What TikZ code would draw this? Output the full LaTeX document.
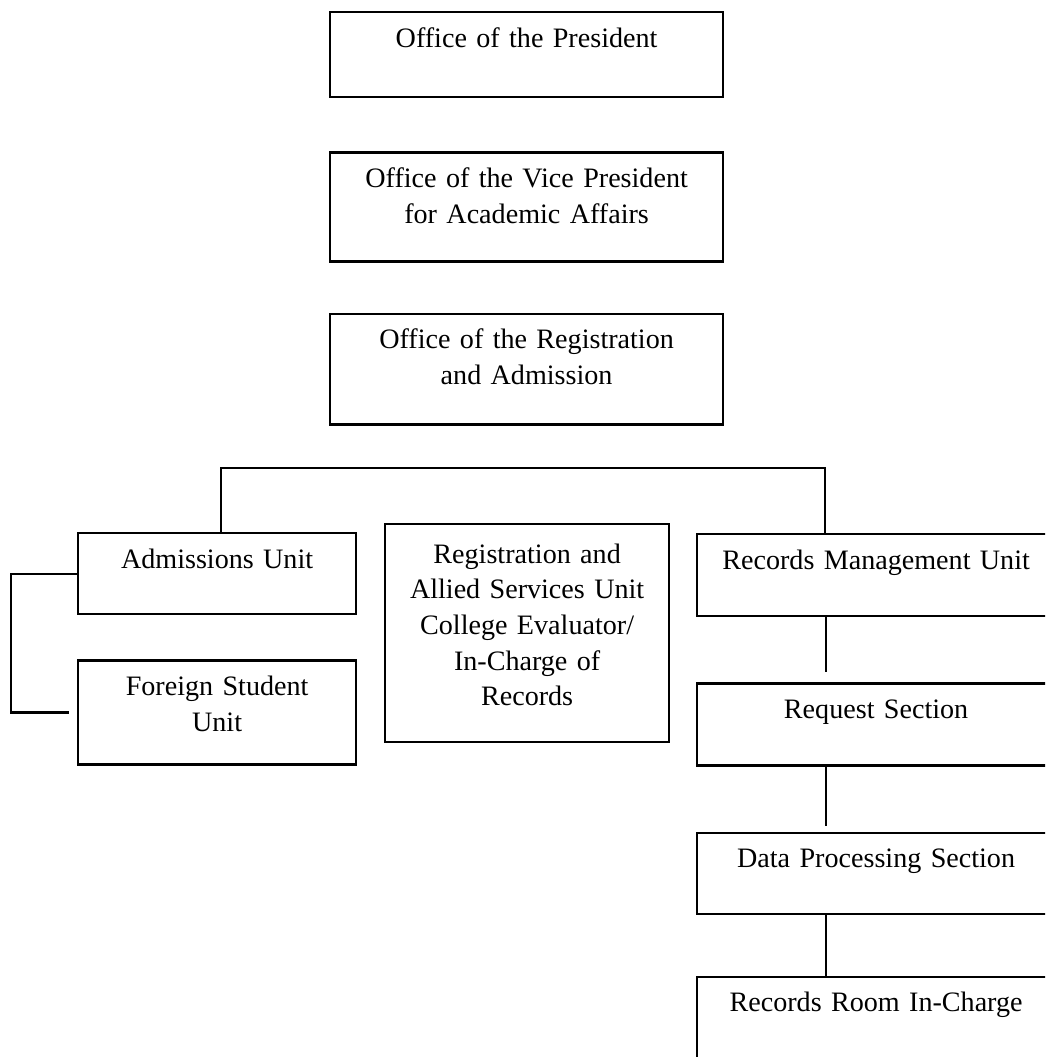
\documentclass[tikz,border=0pt]{standalone}
\usepackage{fontspec}
\setmainfont{Liberation Serif}
\usetikzlibrary{positioning}

\tikzset{
  unit/.style={draw, line width=1.3pt, inner sep=0pt, align=center,
    text height=0.7cm, font=\fontsize{16}{20.3}\selectfont},
  wide/.style={unit, text width=7.86cm},
  narrow/.style={unit, text width=5.56cm},
  side/.style={unit, text width=7.16cm},
  link/.style={line width=1.3pt}
}

\begin{document}
\begin{tikzpicture}[x=0.02cm, y=-0.02cm, node distance=1.06cm]
  \useasboundingbox (0,0) rectangle (1045,1057);
  \clip (0,0) rectangle (1045,1057);
  % top offices
  \node[wide, text depth=1cm, anchor=north west] (pres) at (329,11) {Office of the President};
  \node[wide, text depth=1.48cm] (vp) [below=of pres] {Office of the Vice President\\for Academic Affairs};
  \node[wide, text depth=1.52cm] (reg) [below=1.0cm of vp] {Office of the Registration\\and Admission};
  % units
  \node[narrow, text depth=0.92cm, anchor=north west] (adm) at (77,532) {Admissions Unit};
  \node[narrow, text depth=1.38cm] (fsu) [below=0.88cm of adm] {Foreign Student\\Unit};
  \node[unit, text width=5.68cm, text height=0.78cm, text depth=3.58cm, anchor=north west] (ras) at (384,523)
    {Registration and\\Allied Services Unit\\College Evaluator/\\In-Charge of\\Records};
  \node[side, text depth=0.94cm, anchor=north west] (rmu) at (696,533) {Records Management Unit};
  \node[side, text depth=0.94cm] (req) [below=1.30cm of rmu] {Request Section};
  \node[side, text depth=0.92cm] (dp) [below=1.30cm of req] {Data Processing Section};
  \node[side, text depth=0.92cm] (rr) [below=1.22cm of dp] {Records Room In-Charge};
  % connectors
  \coordinate (busL) at (221,468);
  \coordinate (busR) at (825,468);
  \draw[link] (busL |- adm.north) -- (busL) -- (busR) -- (busR |- rmu.north);
  \coordinate (brk) at (11,574);
  \draw[link, shorten >=0.16cm] (adm.west |- brk) -- (brk) |- (fsu.west);
  \coordinate (spine) at (826,0);
  \draw[link, shorten >=0.2cm] (spine |- rmu.south) -- (spine |- req.north);
  \draw[link, shorten >=0.12cm] (spine |- req.south) -- (spine |- dp.north);
  \draw[link] (spine |- dp.south) -- (spine |- rr.north);
\end{tikzpicture}
\end{document}
